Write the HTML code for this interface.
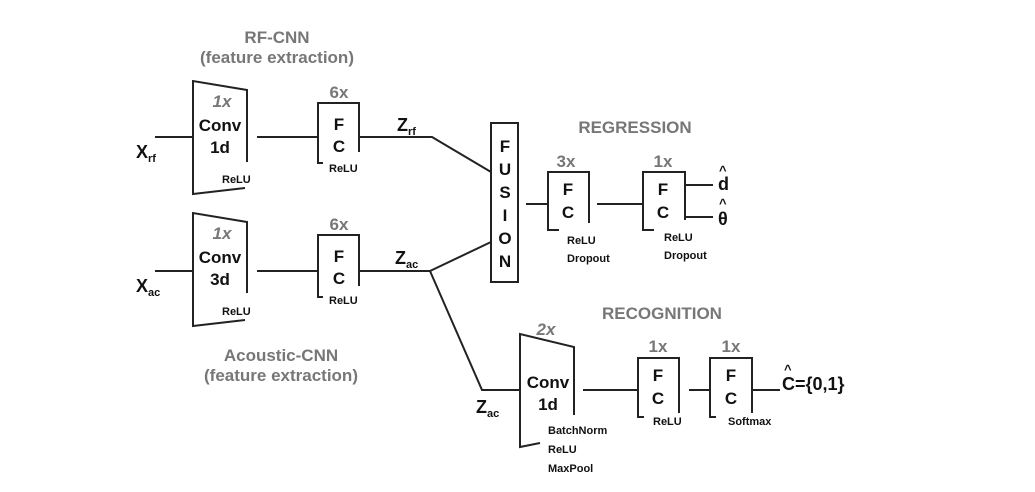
<!DOCTYPE html>
<html><head><style>html,body{margin:0;padding:0;background:#fff}svg{display:block}text{font-family:"Liberation Sans",sans-serif;font-weight:bold}</style></head>
<body>
<svg width="1035" height="492" viewBox="0 0 1035 492" xmlns="http://www.w3.org/2000/svg">
<g fill="none" stroke="#222" stroke-width="2">
<!-- RF conv -->
<polyline points="247,162 247,90 193,81 193,194 245,188"/>
<line x1="155" y1="137" x2="193" y2="137"/>
<line x1="257" y1="137" x2="318" y2="137"/>
<polyline points="323,163 318,163 318,103 359,103 359,152"/>
<polyline points="359,137 432,137 491,172"/>
<!-- AC conv -->
<polyline points="247,293 247,222 193,213 193,326 245,320"/>
<line x1="155" y1="271" x2="193" y2="271"/>
<line x1="257" y1="271" x2="318" y2="271"/>
<polyline points="323,297 318,297 318,235 359,235 359,286"/>
<polyline points="359,271 430,271 491,242"/>
<polyline points="430,271 482,390 520,390"/>
<!-- fusion -->
<rect x="491" y="123" width="27" height="159"/>
<line x1="526" y1="204" x2="548" y2="204"/>
<polyline points="559,230 548,230 548,172 589,172 589,223"/>
<line x1="597" y1="204" x2="643" y2="204"/>
<polyline points="654,230 643,230 643,172 685,172 685,220"/>
<line x1="685" y1="185" x2="713" y2="185"/>
<line x1="685" y1="217" x2="713" y2="217"/>
<!-- recognition -->
<polyline points="574,415 574,347 520,334 520,447 540,443"/>
<line x1="583" y1="390" x2="638" y2="390"/>
<polyline points="644,417 638,417 638,358 679,358 679,413"/>
<line x1="689" y1="390" x2="710" y2="390"/>
<polyline points="716,417 710,417 710,358 752,358 752,413"/>
<line x1="752" y1="390" x2="780" y2="390"/>
</g>
<g fill="#777" font-size="17" text-anchor="middle">
<text x="277" y="43">RF-CNN</text>
<text x="277" y="63">(feature extraction)</text>
<text x="281" y="361">Acoustic-CNN</text>
<text x="281" y="381">(feature extraction)</text>
<text x="635" y="133">REGRESSION</text>
<text x="662" y="319">RECOGNITION</text>
<text x="222" y="107" font-style="italic">1x</text>
<text x="222" y="239" font-style="italic">1x</text>
<text x="546" y="335" font-style="italic">2x</text>
<text x="339" y="98">6x</text>
<text x="339" y="230">6x</text>
<text x="566" y="167">3x</text>
<text x="663" y="167">1x</text>
<text x="658" y="352">1x</text>
<text x="731" y="352">1x</text>
</g>
<g fill="#111" font-size="17" text-anchor="middle">
<text x="220" y="131">Conv</text><text x="220" y="153">1d</text>
<text x="220" y="263">Conv</text><text x="220" y="285">3d</text>
<text x="548" y="388">Conv</text><text x="548" y="410">1d</text>
<text x="339" y="130">F</text><text x="339" y="152">C</text>
<text x="339" y="262">F</text><text x="339" y="284">C</text>
<text x="568" y="195">F</text><text x="568" y="218">C</text>
<text x="663" y="195">F</text><text x="663" y="218">C</text>
<text x="658" y="381">F</text><text x="658" y="404">C</text>
<text x="731" y="381">F</text><text x="731" y="404">C</text>
<text x="505" y="152">F</text><text x="505" y="175">U</text><text x="505" y="198">S</text>
<text x="505" y="221">I</text><text x="505" y="244">O</text><text x="505" y="267">N</text>
</g>
<g fill="#111" font-size="11" text-anchor="start">
<text x="222" y="183">ReLU</text>
<text x="222" y="315">ReLU</text>
<text x="329" y="172">ReLU</text>
<text x="329" y="304">ReLU</text>
<text x="567" y="244">ReLU</text><text x="567" y="262">Dropout</text>
<text x="664" y="241">ReLU</text><text x="664" y="259">Dropout</text>
<text x="548" y="434">BatchNorm</text><text x="548" y="453">ReLU</text><text x="548" y="472">MaxPool</text>
<text x="653" y="425">ReLU</text>
<text x="728" y="425">Softmax</text>
</g>
<g fill="#111" font-size="18">
<text x="136" y="158">X<tspan font-size="11" dy="4">rf</tspan></text>
<text x="136" y="292">X<tspan font-size="11" dy="4">ac</tspan></text>
<text x="397" y="131">Z<tspan font-size="11" dy="4">rf</tspan></text>
<text x="395" y="264">Z<tspan font-size="11" dy="4">ac</tspan></text>
<text x="476" y="413">Z<tspan font-size="11" dy="4">ac</tspan></text>
<text x="718" y="190">d</text><text x="719" y="175" font-size="13">^</text>
<text x="718" y="225">θ</text><text x="719" y="208" font-size="13">^</text>
<text x="782" y="390">C={0,1}</text><text x="784" y="374" font-size="13">^</text>
</g>
</svg>
</body></html>
